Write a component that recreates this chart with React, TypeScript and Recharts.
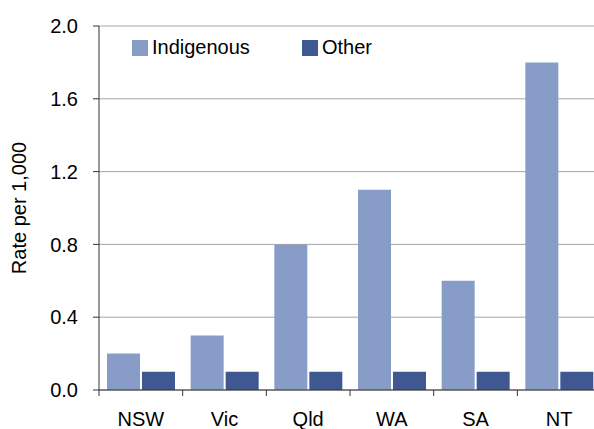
import { BarChart, Bar, XAxis, YAxis, CartesianGrid } from "recharts";

const states = ["NSW", "Vic", "Qld", "WA", "SA", "NT"];
const indigenous = [0.2, 0.3, 0.8, 1.1, 0.6, 1.8];
const other = [0.1, 0.1, 0.1, 0.1, 0.1, 0.1];
const yTicks = [0, 0.4, 0.8, 1.2, 1.6, 2.0];
const series = [
  { key: "indigenous", name: "Indigenous", color: "#879dc8" },
  { key: "other", name: "Other", color: "#3f5891" },
];

const data = states.map((s, i) => ({ state: s, indigenous: indigenous[i], other: other[i] }));

const font = "Arial, 'Liberation Sans', sans-serif";

function StateTick(props: any) {
  const { x, y, payload } = props;
  const edge = x - (payload.offset ?? 0);
  return (
    <g>
      <line x1={edge} x2={edge} y1={y - 6} y2={y} stroke="#333" />
      <text x={x} y={y + 16} dy="0.71em" textAnchor="middle" fontSize={20} fill="#000" fontFamily={font}>
        {payload.value}
      </text>
    </g>
  );
}

export default function App() {
  return (
    <div style={{ position: "absolute", left: 0, top: 0, width: 594, height: 429, overflow: "hidden", background: "#fff" }}>
      <BarChart
        width={601}
        height={429}
        data={data}
        margin={{ top: 26, right: 0, left: 0, bottom: 0 }}
        barCategoryGap={8}
        barGap={2}
      >
        <CartesianGrid vertical={false} stroke="#a6a6a6" />
        <XAxis
          dataKey="state"
          height={39}
          stroke="#333"
          tickLine={false}
          tickMargin={0}
          tick={(p: any) => <StateTick {...p} />}
          interval={0}
        />
        <YAxis
          width={99}
          domain={[0, 2]}
          ticks={yTicks}
          tickFormatter={(v: number) => v.toFixed(1)}
          stroke="#333"
          tickSize={6}
          tickMargin={15}
          tick={{ fontSize: 20, fill: "#000", fontFamily: font }}
          label={{ value: "Rate per 1,000", angle: -90, position: "insideLeft", offset: 19, textAnchor: "middle", fontSize: 20, fill: "#000", fontFamily: font } as any}
        />
        {series.map((s) => (
          <Bar key={s.key} dataKey={s.key} name={s.name} fill={s.color} isAnimationActive={false} />
        ))}
      </BarChart>
      <div style={{ position: "absolute", left: 132, top: 36, display: "flex", fontFamily: font, fontSize: 20, color: "#000", lineHeight: "23px" }}>
        {series.map((s, i) => (
          <div key={s.key} style={{ display: "flex", alignItems: "center", width: i === 0 ? 170 : 100 }}>
            <span style={{ width: 16, height: 16, background: s.color, marginRight: 4, display: "inline-block" }} />
            <span>{s.name}</span>
          </div>
        ))}
      </div>
    </div>
  );
}
